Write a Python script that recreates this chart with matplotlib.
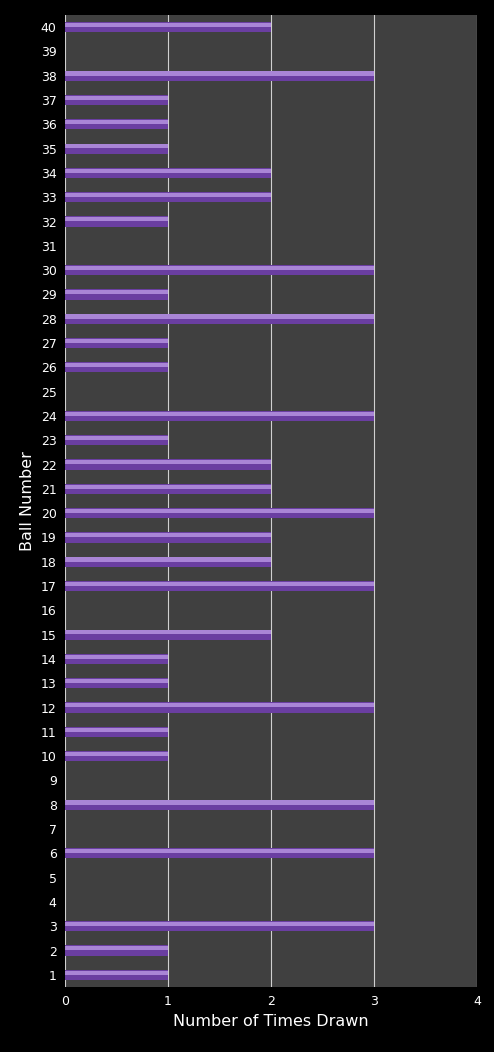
import numpy as np
import matplotlib
matplotlib.use("Agg")
import matplotlib.pyplot as plt

balls = list(range(1, 41))
times_drawn = [1, 1, 3, 0, 0, 3, 0, 3, 0, 1,
               1, 3, 1, 1, 2, 0, 3, 2, 2, 3,
               2, 2, 1, 3, 0, 1, 1, 3, 1, 3,
               0, 1, 2, 2, 1, 1, 1, 3, 0, 2]

fig = plt.figure(figsize=(4.94, 10.52), dpi=100, facecolor="black")
ax = fig.add_axes([65 / 494, 1 - 987 / 1052, (477 - 65) / 494, (987 - 15) / 1052])
ax.set_facecolor("#404040")

y = np.array(balls)
h = 0.42
ax.barh(y, times_drawn, height=h, color="#6a3ea1", zorder=3)
# lighter top sheen on each bar
ax.barh(y + h * 0.22, times_drawn, height=h * 0.4, color="#a985d6", zorder=4)

ax.set_xlim(0, 4)
ax.set_ylim(0.5, 40.5)
ax.set_xticks([0, 1, 2, 3, 4])
ax.set_yticks(balls)
ax.xaxis.grid(True, color="#d0d0d0", lw=0.8, zorder=1)
ax.tick_params(colors="white", labelsize=9, length=0, pad=6)
for s in ax.spines.values():
    s.set_visible(False)
ax.set_xlabel("Number of Times Drawn", color="white", fontsize=11.5)
ax.set_ylabel("Ball Number", color="white", fontsize=11.5, labelpad=4)

fig.savefig("out.png", dpi=100, facecolor="black")
